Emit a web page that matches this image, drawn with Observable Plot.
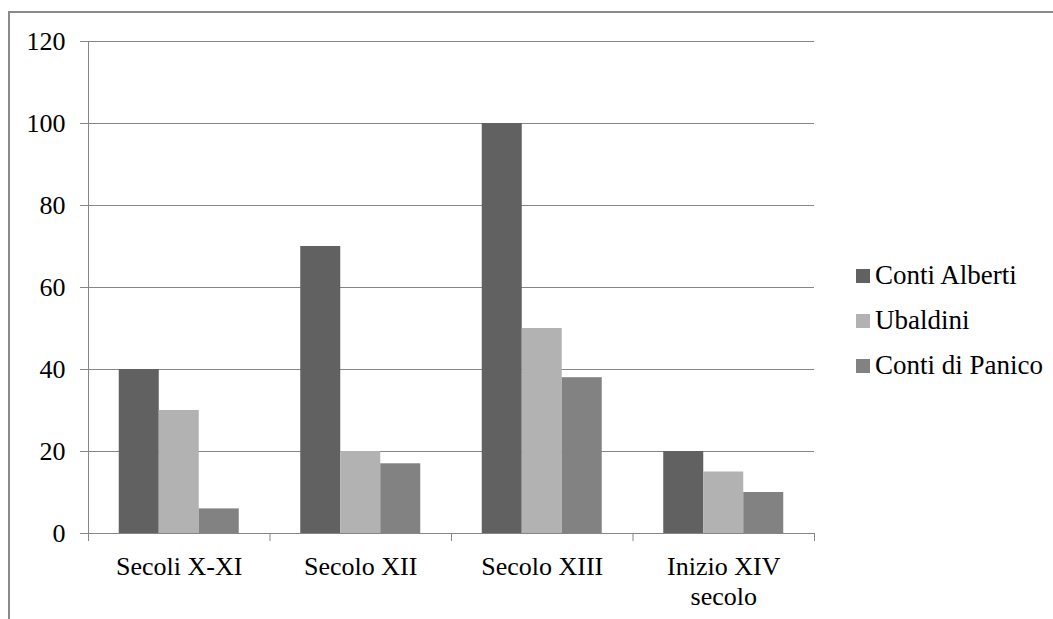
<!DOCTYPE html>
<html>
<head>
<meta charset="utf-8">
<script src="https://cdn.jsdelivr.net/npm/d3@7"></script>
<script src="https://cdn.jsdelivr.net/npm/@observablehq/plot@0.6"></script>
<style>
  html, body { margin: 0; padding: 0; background: #fff; }
  #wrap { position: relative; width: 1053px; height: 619px; overflow: hidden; }
  #chart { position: absolute; left: 0; top: 0; }
  #frame { position: absolute; left: 8px; top: 11px; width: 1100px; height: 700px; border-top: 2px solid #8a8a8a; border-left: 2px solid #8a8a8a; }
  #legend { position: absolute; left: 856px; top: 253px; font-family: "Liberation Serif", "Times New Roman", serif; font-size: 27px; color: #000; }
  #legend .row { display: flex; align-items: center; height: 45px; }
  #legend .sw { width: 14px; height: 14px; margin-right: 5px; }
</style>
</head>
<body>
<div id="wrap">
  <div id="frame"></div>
  <div id="chart"></div>
  <div id="legend"></div>
</div>
<script>
const categories = ["Secoli X-XI", "Secolo XII", "Secolo XIII", "Inizio XIV\nsecolo"];
const seriesNames = ["Conti Alberti", "Ubaldini", "Conti di Panico"];
const contiAlberti = [40, 70, 100, 20];
const ubaldini = [30, 20, 50, 15];
const contiDiPanico = [6, 17, 38, 10];
const colors = ["#616161", "#b2b2b2", "#828282"];
const yTicks = [0, 20, 40, 60, 80, 100, 120];

const seriesValues = [contiAlberti, ubaldini, contiDiPanico];
const rows = [];
const barW = 40 / 181.5, outer = 30.75 / 181.5;
categories.forEach((c, i) => {
  seriesValues.forEach((vals, s) => {
    rows.push({cat: c, series: seriesNames[s], value: vals[i], x1: i + outer + s * barW, x2: i + outer + (s + 1) * barW});
  });
});

const font = '"Liberation Serif", "Times New Roman", serif';

const plot = Plot.plot({
  width: 1053,
  height: 619,
  marginLeft: 88,
  marginRight: 239,
  marginTop: 41,
  marginBottom: 86,
  style: {fontFamily: font, fontSize: "26px", color: "#000", background: "transparent", overflow: "visible"},
  x: {type: "linear", domain: [0, categories.length], axis: null},
  y: {domain: [0, 120], axis: null},
  color: {domain: seriesNames, range: colors},
  marks: [
    Plot.gridY(yTicks, {stroke: "#868686", strokeOpacity: 1, strokeWidth: 1}),
    Plot.axisY(yTicks, {tickSize: 8, tickPadding: 15, stroke: "#868686", fill: "#000", fontSize: 26, label: null}),
    Plot.rectY(rows, {x1: "x1", x2: "x2", y: "value", fill: "series"}),
    Plot.ruleX([0], {stroke: "#868686"}),
    Plot.ruleY([0], {stroke: "#868686"}),
    Plot.axisX(d3.range(categories.length + 1), {tickSize: 8, tickFormat: () => "", stroke: "#868686", label: null}),
    Plot.text(categories, {x: (d, i) => i + 0.5, y: 0, text: d => d, lineAnchor: "top", dy: 20, lineHeight: 1.15, fontSize: 26, fill: "#000"})
  ]
});
document.getElementById("chart").appendChild(plot);

const legend = document.getElementById("legend");
seriesNames.forEach((name, i) => {
  const row = document.createElement("div");
  row.className = "row";
  const sw = document.createElement("div");
  sw.className = "sw";
  sw.style.background = colors[i];
  const label = document.createElement("span");
  label.textContent = name;
  row.appendChild(sw);
  row.appendChild(label);
  legend.appendChild(row);
});
</script>
</body>
</html>
